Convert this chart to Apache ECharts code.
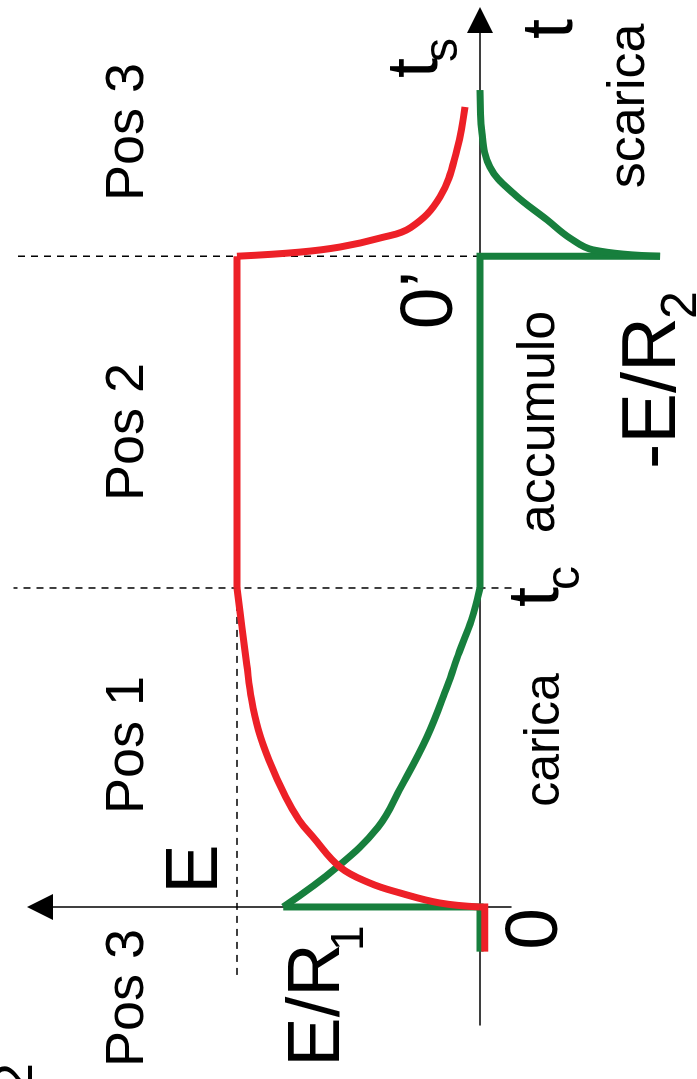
<!DOCTYPE html>
<html>
<head>
<meta charset="utf-8">
<script src="https://cdn.jsdelivr.net/npm/echarts@6/dist/echarts.min.js"></script>
<style>
  html, body { margin: 0; padding: 0; background: #fff; overflow: hidden; }
  body { width: 697px; height: 1079px; position: relative; }
  /* chart drawn with time on the horizontal axis, then turned 90deg counter-clockwise */
  #chart { position: absolute; left: 0; top: 0; width: 1079px; height: 697px;
           transform-origin: 0 0; transform: translate(0, 1079px) rotate(-90deg); }
</style>
</head>
<body>
<div id="chart"></div>
<script>
// levels (E = 1) and switching times (tc = 1)
var E = 1, ER1 = 0.81, ER2 = -0.741;
var tC = 1, t0p = 2.04;

// capacitor voltage (red): [t, v]
var vcPre = [[-0.14, -0.02], [0, -0.02], [0, 0]];
var vcCharge = [[0, 0], [0.0125, 0.165], [0.044, 0.329], [0.075, 0.453], [0.125, 0.576],
  [0.219, 0.687], [0.273, 0.745], [0.345, 0.80], [0.46, 0.868], [0.555, 0.912],
  [0.65, 0.94], [0.76, 0.96], [0.88, 0.98], [1, 1]];
var vcHold = [[tC, E], [t0p, E]];
var vcDisch = [[2.04, 1], [2.053, 0.741], [2.069, 0.576], [2.097, 0.412], [2.13, 0.285],
  [2.226, 0.165], [2.373, 0.095], [2.508, 0.062]];

// current (green): [t, i]
var iPre = [[-0.14, 0], [0, 0], [0, ER1]];
var iCharge = [[0, 0.81], [0.125, 0.588], [0.25, 0.42], [0.376, 0.325], [0.533, 0.218],
  [0.69, 0.136], [0.8, 0.085], [0.9, 0.035], [1, 0]];
var iHold = [[tC, 0], [t0p, 0], [t0p, ER2]];
var iDisch = [[2.04, -0.741], [2.06, -0.465], [2.097, -0.37], [2.154, -0.276], [2.238, -0.136],
  [2.32, -0.041], [2.426, -0.008], [2.561, 0]];

// dashed guides
var guideE = [[-0.213, E], [tC, E]];
var guideTc = [[tC, -0.13], [tC, 1.92]];
var guideT0p = [[t0p, 0], [t0p, 1.922]];

// text: [text, u, v(baseline), size, align]
var labels = [
  ['Pos 3', 947, 147, 54, 'center'],
  ['Pos 2', 647, 147, 54, 'center'],
  ['Pos 1', 334, 147, 54, 'center'],
  ['Pos 3', 81, 147, 54, 'center'],
  ['E', 210, 222, 74, 'center'],
  ['E/R', 74, 344, 74, 'center'],
  ['1', 128, 366, 46, 'left'],
  ['0', 150, 562, 75, 'center'],
  ['carica', 339, 563, 50, 'center'],
  ['t', 482, 563, 72, 'center'],
  ['c', 489, 582, 48, 'left'],
  ['accumulo', 657, 558, 52, 'center'],
  ['0\u2019', 779, 457, 75, 'center'],
  ['-E/R', 686, 680, 76, 'center'],
  ['2', 760, 700, 50, 'left'],
  ['t', 1011, 442, 72, 'center'],
  ['s', 1017, 460, 48, 'left'],
  ['t', 1050, 577, 72, 'center'],
  ['scarica', 973, 648, 52, 'center'],
  ['2', -14, 36, 54, 'left']
];

var RED = '#ed2027';
var GREEN = '#177f3d';
var FONT = '"Liberation Sans", Arial, sans-serif';

function curve(data, color, smooth) {
  return {
    type: 'line', data: data, symbol: 'none', smooth: smooth || false,
    clip: false, silent: true,
    lineStyle: { color: color, width: 7, cap: 'butt', join: 'miter' }
  };
}
function dashed(data) {
  return {
    type: 'line', data: data, symbol: 'none', clip: false, silent: true,
    lineStyle: { color: '#000', width: 1.5, type: [7, 6] }
  };
}

var graphic = labels.map(function (l) {
  var size = l[3];
  return {
    type: 'text', x: l[1], y: l[2] - 0.3465 * size, silent: true,
    style: {
      text: l[0], font: size + 'px ' + FONT, fill: '#000',
      align: l[4], textAlign: l[4], verticalAlign: 'middle', textVerticalAlign: 'middle'
    }
  };
});

var axisLine = {
  onZero: true, symbol: ['none', 'triangle'], symbolSize: [26, 26],
  lineStyle: { color: '#000', width: 1.5 }
};

var chart = echarts.init(document.getElementById('chart'));
chart.setOption({
  animation: false,
  grid: { left: 54, right: 20, top: 40, bottom: 186 },
  xAxis: {
    type: 'value', min: -0.37, max: 2.7806,
    axisLine: axisLine, axisTick: { show: false }, axisLabel: { show: false }, splitLine: { show: false }
  },
  yAxis: {
    type: 'value', min: -0.1276, max: 1.8107,
    axisLine: axisLine, axisTick: { show: false }, axisLabel: { show: false }, splitLine: { show: false }
  },
  series: [
    dashed(guideE), dashed(guideTc), dashed(guideT0p),
    curve(iPre, GREEN), curve(iCharge, GREEN, 0.4), curve(iHold, GREEN), curve(iDisch, GREEN, 0.4),
    curve(vcPre, RED), curve(vcCharge, RED, 0.4), curve(vcHold, RED), curve(vcDisch, RED, 0.4)
  ],
  graphic: graphic
});
</script>
</body>
</html>
